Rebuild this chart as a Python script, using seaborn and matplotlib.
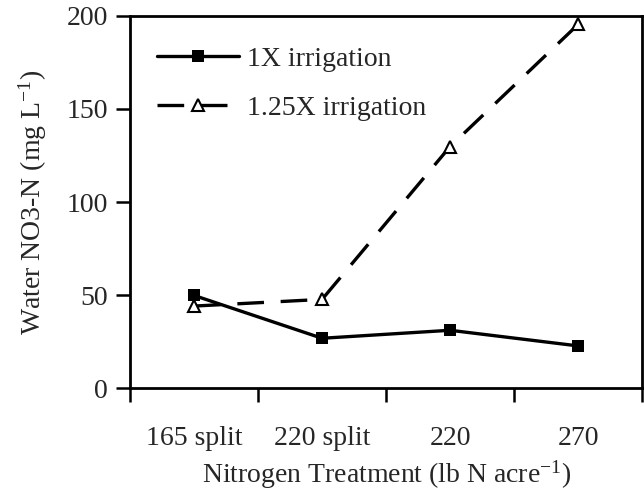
import matplotlib
matplotlib.use('Agg')
import matplotlib.pyplot as plt
import pandas as pd
import seaborn as sns
from matplotlib.ticker import FixedLocator, NullFormatter

# data
treatments = ['165 split', '220 split', '220', '270']
one_x = [49.8, 26.8, 31.1, 22.7]
one_25x = [44.1, 47.7, 129.8, 195.4]
series_names = ['1X irrigation', '1.25X irrigation']
yticks = [0, 50, 100, 150, 200]

df = pd.DataFrame({
    'Treatment': treatments * 2,
    'pos': list(range(len(treatments))) * 2,
    'NO3': one_x + one_25x,
    'Irrigation': [series_names[0]] * 4 + [series_names[1]] * 4,
})

sns.set_style('ticks')
plt.rcParams['font.family'] = ['Liberation Serif', 'DejaVu Serif']
plt.rcParams['mathtext.fontset'] = 'custom'
plt.rcParams['mathtext.rm'] = 'Liberation Serif'
plt.rcParams['mathtext.it'] = 'Liberation Serif'

FS = 20
LW = 2.4
MS = 9

fig, ax = plt.subplots(figsize=(6.44, 4.97), dpi=100)
fig.patch.set_facecolor('white')
fig.subplots_adjust(left=0.202, right=0.997, bottom=0.219, top=0.968)

sns.lineplot(data=df, x='pos', y='NO3', hue='Irrigation', style='Irrigation',
             palette=['black', 'black'], dashes={series_names[0]: '', series_names[1]: (8, 5)},
             markers={series_names[0]: 's', series_names[1]: '^'},
             linewidth=LW, markersize=MS, ax=ax, legend=False)

# open triangles for the 1.25X series
for line in ax.lines:
    if line.get_marker() == '^':
        line.set_markerfacecolor('white')
        line.set_markeredgecolor('black')
        line.set_markeredgewidth(1.5)
    else:
        line.set_markeredgewidth(0)

ax.set_xlim(-0.5, 3.5)
ax.set_ylim(0, 200)
ax.set_yticks(yticks)

# ticks at category boundaries, labels centred under each point
ax.xaxis.set_major_locator(FixedLocator([-0.5, 0.5, 1.5, 2.5, 3.5]))
ax.xaxis.set_major_formatter(NullFormatter())
ax.xaxis.set_minor_locator(FixedLocator(range(len(treatments))))
ax.set_xticklabels(treatments, minor=True)
ax.tick_params(axis='x', which='minor', length=0, pad=27, labelsize=FS)
ax.tick_params(axis='both', which='major', length=10, width=1.8, direction='out',
               labelsize=FS, color='black')
ax.tick_params(axis='y', which='major', pad=6)

for s in ax.spines.values():
    s.set_linewidth(2)
    s.set_color('black')

ax.set_xlabel('Nitrogen Treatment (lb N acre$^{-1}$)', fontsize=FS)
ax.set_ylabel('Water NO3-N (mg L$^{-1}$)', fontsize=FS)
ax.xaxis.set_label_coords(0.5, -0.19)
ax.yaxis.set_label_coords(-0.158, 0.5)

# legend
h1, = ax.plot([], [], color='black', lw=LW, marker='s', markersize=MS, markeredgewidth=0)
h2, = ax.plot([], [], color='black', lw=LW, ls=(0, (8, 5)), marker='^', markersize=MS,
              markerfacecolor='white', markeredgewidth=1.5)
ax.legend([h1, h2], series_names, loc='upper left', bbox_to_anchor=(0.003, 0.985),
          frameon=False, fontsize=FS, handlelength=2.95, handletextpad=0.3,
          labelspacing=0.85)

plt.savefig('out.png', dpi=100, facecolor='white')
